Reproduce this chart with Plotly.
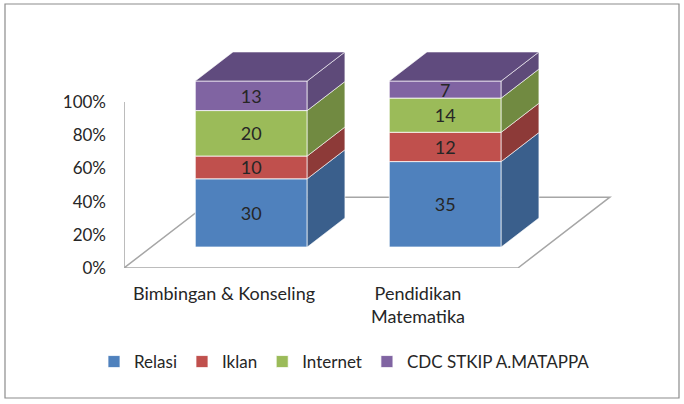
import plotly.graph_objects as go

# ---------------- data ----------------
categories = ["Bimbingan & Konseling", "Pendidikan<br>Matematika"]
series_names = ["Relasi", "Iklan", "Internet", "CDC STKIP A.MATAPPA"]
relasi = [30, 35]
iklan = [10, 12]
internet = [20, 14]
cdc = [13, 7]
y_tick_values = [0, 20, 40, 60, 80, 100]
y_tick_labels = ["0%", "20%", "40%", "60%", "80%", "100%"]

series_values = [relasi, iklan, internet, cdc]

# ---------------- style ----------------
front_colors = ["#4F81BD", "#C0504D", "#9BBB59", "#8064A2"]
side_colors = ["#3A5F8C", "#8D3A38", "#718A41", "#5E4A79"]
top_color = "#604B7E"
FONT = "Lato"
TXT = "#262626"

# 3D projection (data units)
DX, DY = 0.4742, 42.64      # offset of full floor depth
D0, D1 = 0.296, 0.706       # bar front / back depth
BAR_W = 0.577
XA, XB = -0.5155, 2.0
FLOOR_R = 1.515
YTOP = 134.3


def proj(x, v, d):
    return x + d * DX, v + d * DY


fig = go.Figure()

n = len(categories)
totals = [sum(s[i] for s in series_values) for i in range(n)]
pcts = [[100.0 * s[i] / totals[i] for i in range(n)] for s in series_values]
cum = [[0.0] * n]
for k in range(len(series_values)):
    cum.append([cum[-1][i] + pcts[k][i] for i in range(n)])

# front faces (bars)
for k, name in enumerate(series_names):
    xs = [i + D0 * DX for i in range(n)]
    fig.add_trace(go.Bar(
        x=xs, y=pcts[k], base=[cum[k][i] + D0 * DY for i in range(n)],
        width=BAR_W, name=name,
        marker=dict(color=front_colors[k], line=dict(color="rgba(255,255,255,0.75)", width=1)),
        text=[str(v) for v in series_values[k]], textposition="inside",
        insidetextanchor="middle", constraintext="none", textangle=0,
        textfont=dict(family=FONT, size=18, color=TXT),
        hoverinfo="skip",
    ))

# side faces
for k in range(len(series_values)):
    px, py = [], []
    for i in range(n):
        xr = i + BAR_W / 2
        lo, hi = cum[k][i], cum[k + 1][i]
        for (v, d) in [(lo, D0), (hi, D0), (hi, D1), (lo, D1), (lo, D0)]:
            a, b = proj(xr, v, d)
            px.append(a); py.append(b)
        px.append(None); py.append(None)
    fig.add_trace(go.Scatter(
        x=px, y=py, mode="lines", fill="toself", fillcolor=side_colors[k],
        line=dict(color="rgba(255,255,255,0.6)", width=1),
        showlegend=False, hoverinfo="skip"))

# top faces
px, py = [], []
for i in range(n):
    xl, xr = i - BAR_W / 2, i + BAR_W / 2
    top = cum[-1][i]
    for (x, d) in [(xl, D0), (xr, D0), (xr, D1), (xl, D1), (xl, D0)]:
        a, b = proj(x, top, d)
        px.append(a); py.append(b)
    px.append(None); py.append(None)
fig.add_trace(go.Scatter(
    x=px, y=py, mode="lines", fill="toself", fillcolor=top_color,
    line=dict(color="rgba(255,255,255,0.6)", width=1),
    showlegend=False, hoverinfo="skip"))

# floor outline & value axis line (below traces)
corners = [proj(XA, 0, 0), proj(FLOOR_R, 0, 0), proj(FLOOR_R, 0, 1), proj(XA, 0, 1)]
path = "M " + " L ".join(f"{a},{b}" for a, b in corners) + " Z"
shapes = [
    dict(type="path", path=path, xref="x", yref="y", layer="below",
         line=dict(color="#A6A6A6", width=1.5)),
    dict(type="line", x0=XA, x1=XA, y0=0, y1=100, xref="x", yref="y", layer="below",
         line=dict(color="#A6A6A6", width=1.5)),
]

# chart border (pixel -> paper)
PL, PR, PT, PB = 124, 612, 45, 268
def xp(p): return (p - PL) / (PR - PL)
def yp(p): return (PB - p) / (PB - PT)
shapes.append(dict(type="rect", xref="paper", yref="paper",
                   x0=xp(5), x1=xp(679), y0=yp(398), y1=yp(4),
                   line=dict(color="#8C8C8C", width=1.2)))

fig.update_layout(
    width=684, height=404,
    margin=dict(l=PL, r=684 - PR, t=PT, b=404 - PB, pad=0),
    paper_bgcolor="white", plot_bgcolor="white",
    barmode="overlay",
    shapes=shapes,
    font=dict(family=FONT, size=18, color=TXT),
    xaxis=dict(range=[XA, XB], tickvals=list(range(n)), ticktext=categories,
               showgrid=False, zeroline=False, showline=False, ticks="",
               ticklabelstandoff=13, tickfont=dict(family=FONT, size=18, color=TXT),
               fixedrange=True),
    yaxis=dict(range=[0, YTOP], tickvals=y_tick_values, ticktext=y_tick_labels,
               showgrid=False, zeroline=False, showline=False, ticks="",
               ticklabelstandoff=17, tickfont=dict(family=FONT, size=17, color=TXT),
               fixedrange=True),
    legend=dict(orientation="h", x=xp(94), xanchor="left", y=yp(362), yanchor="middle",
                font=dict(family=FONT, size=17, color=TXT), traceorder="normal",
                itemwidth=30),
    showlegend=True,
)

fig.write_html("out.html")
